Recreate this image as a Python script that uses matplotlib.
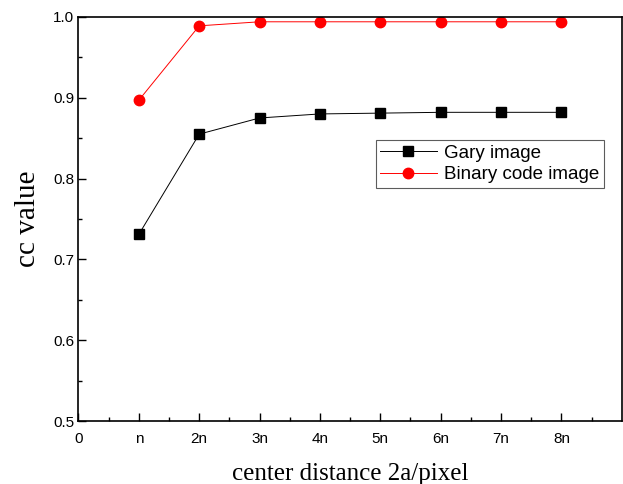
import numpy as np
import matplotlib
matplotlib.use("Agg")
import matplotlib.pyplot as plt

# data
x = [1, 2, 3, 4, 5, 6, 7, 8]
xticklabels = ["0", "n", "2n", "3n", "4n", "5n", "6n", "7n", "8n"]
gray = [0.731, 0.855, 0.875, 0.880, 0.881, 0.882, 0.882, 0.882]
binary = [0.897, 0.989, 0.994, 0.994, 0.994, 0.994, 0.994, 0.994]

fig = plt.figure(figsize=(6.23, 4.84), dpi=100)
ax = fig.add_axes([0.126, 0.130, 0.872, 0.835])

ax.plot(x, gray, color="black", lw=0.7, marker="s", ms=6.8, label="Gary image")
ax.plot(x, binary, color="red", lw=0.7, marker="o", ms=7.5, label="Binary code image")

ax.set_xlim(0, 9)
ax.set_ylim(0.5, 1.0)
ax.set_xticks(range(9))
ax.set_xticklabels(xticklabels, family="Liberation Sans", fontsize=11)
ax.set_xticks(np.arange(0.5, 9, 1), minor=True)
ax.set_yticks([0.5, 0.6, 0.7, 0.8, 0.9, 1.0])
ax.set_yticklabels(["0.5", "0.6", "0.7", "0.8", "0.9", "1.0"], family="Liberation Sans", fontsize=11)
ax.set_yticks(np.arange(0.55, 1.0, 0.1), minor=True)
ax.tick_params(which="both", direction="in", width=1)
ax.tick_params(which="major", length=6)
ax.tick_params(which="minor", length=3)
ax.tick_params(axis="x", which="major", pad=8)
ax.tick_params(axis="y", which="major", pad=3)
for s in ax.spines.values():
    s.set_linewidth(1.2)

ax.set_xlabel("center distance 2a/pixel", family="Liberation Serif", fontsize=18, labelpad=12)
ax.set_ylabel("cc value", family="Liberation Serif", fontsize=21, labelpad=9)

leg = ax.legend(loc="upper left", bbox_to_anchor=(0.547, 0.696), fancybox=False,
                prop={"family": "Liberation Sans", "size": 13.5}, handlelength=3.0,
                borderpad=0.25, labelspacing=0.25, handletextpad=0.4, borderaxespad=0)
leg.get_frame().set_edgecolor("#333333")
leg.get_frame().set_linewidth(0.8)

fig.savefig("out.png")
